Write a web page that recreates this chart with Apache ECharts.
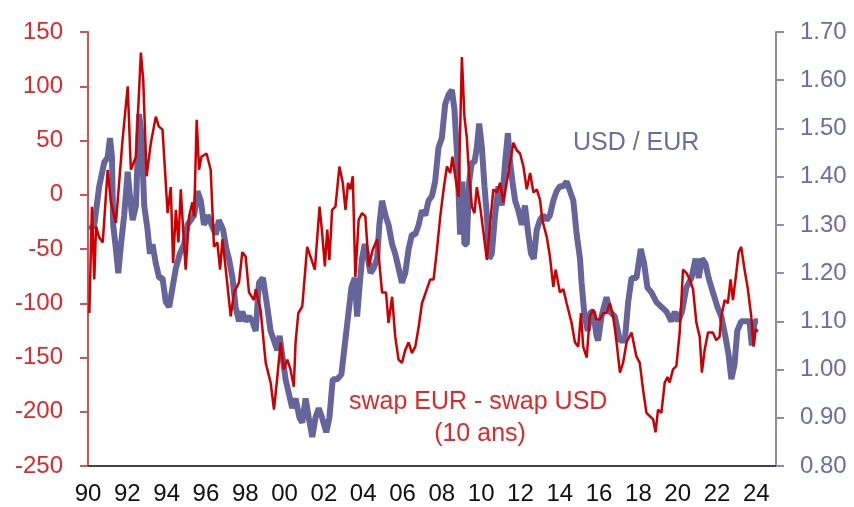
<!DOCTYPE html>
<html>
<head>
<meta charset="utf-8">
<script src="https://cdn.jsdelivr.net/npm/echarts@6.0.0/dist/echarts.min.js"></script>
<style>
  html, body { margin: 0; padding: 0; background: #fff; }
  #chart { width: 854px; height: 507px; }
</style>
</head>
<body>
<div id="chart"></div>
<script>
// écart swap EUR - swap USD 10 ans (pb), axe gauche
const swapYears = [1990.07,1990.20,1990.32,1990.41,1990.56,1990.75,1991.00,1991.17,1991.42,1991.76,
  1992.02,1992.18,1992.44,1992.69,1992.81,1992.98,1993.20,1993.45,1993.60,1993.79,
  1994.05,1994.21,1994.33,1994.47,1994.60,1994.72,1994.84,1994.97,1995.14,1995.31,
  1995.40,1995.53,1995.65,1995.77,1996.03,1996.24,1996.41,1996.58,1996.72,1996.84,
  1997.01,1997.26,1997.43,1997.68,1997.85,1998.02,1998.19,1998.44,1998.53,1998.78,
  1999.04,1999.29,1999.46,1999.63,1999.80,1999.96,2000.14,2000.30,2000.47,2000.56,
  2000.70,2000.90,2001.15,2001.32,2001.54,2001.78,2001.91,2002.05,2002.17,2002.28,
  2002.42,2002.59,2002.79,2002.96,2003.10,2003.23,2003.35,2003.47,2003.60,2003.77,
  2003.94,2004.11,2004.28,2004.48,2004.71,2004.96,2005.16,2005.29,2005.47,2005.63,
  2005.80,2005.97,2006.14,2006.31,2006.48,2006.65,2006.82,2006.99,2007.24,2007.41,
  2007.58,2007.75,2007.92,2008.09,2008.26,2008.43,2008.54,2008.68,2008.85,2008.93,
  2009.02,2009.15,2009.27,2009.39,2009.53,2009.66,2009.78,2009.95,2010.12,2010.29,
  2010.46,2010.62,2010.80,2010.96,2011.13,2011.30,2011.47,2011.64,2011.81,2011.98,
  2012.15,2012.32,2012.49,2012.66,2012.83,2013.00,2013.11,2013.34,2013.50,2013.67,
  2013.79,2014.01,2014.18,2014.35,2014.60,2014.77,2014.94,2015.08,2015.19,2015.37,
  2015.53,2015.70,2015.87,2016.04,2016.21,2016.38,2016.55,2016.72,2016.89,2017.06,
  2017.22,2017.40,2017.65,2017.90,2018.07,2018.24,2018.41,2018.58,2018.75,2018.87,
  2019.00,2019.17,2019.34,2019.48,2019.59,2019.76,2019.93,2020.10,2020.27,2020.44,
  2020.61,2020.78,2020.95,2021.12,2021.23,2021.37,2021.54,2021.79,2021.96,2022.13,
  2022.22,2022.39,2022.55,2022.69,2022.81,2022.98,2023.10,2023.23,2023.40,2023.57,
  2023.74,2023.86,2023.96,2024.08];
const swapValues = [-109,-11,-78,-29,-39,-44,23,-7,-26,51,
  100,23,35,131,106,17,48,72,63,60,
  -17,7,-63,-14,-44,5,-32,-69,-20,-7,
  -20,69,23,35,38,23,-48,-44,-69,-41,
  -69,-112,-90,-81,-53,-57,-90,-97,-87,-106,
  -155,-173,-198,-168,-136,-161,-152,-161,-177,-136,
  -109,-103,-48,-57,-69,-11,-35,-66,-32,-60,
  -14,-11,26,11,-14,11,5,17,-76,-23,
  -17,-20,-66,-51,-41,-90,-90,-118,-94,-131,
  -152,-155,-143,-136,-146,-140,-122,-100,-87,-78,
  -78,-51,-20,5,26,20,35,17,-2,57,
  127,72,53,17,-11,-17,7,-11,-35,-60,
  -26,5,2,11,-7,11,29,48,41,38,
  26,5,20,2,5,-5,-23,-39,-57,-85,
  -69,-90,-87,-100,-118,-136,-140,-109,-140,-150,
  -112,-106,-115,-115,-109,-109,-100,-112,-136,-164,
  -155,-136,-127,-149,-155,-180,-201,-204,-207,-219,
  -198,-201,-173,-168,-173,-161,-158,-127,-69,-72,
  -78,-87,-118,-131,-164,-143,-127,-127,-134,-131,
  -112,-97,-100,-78,-97,-72,-53,-48,-69,-87,
  -112,-140,-124,-126];

// USD / EUR, axe droit
const fxYears = [1990.07,1990.32,1990.57,1990.83,1991.00,1991.12,1991.22,1991.28,1991.42,1991.54,
  1991.68,1991.84,1992.02,1992.13,1992.27,1992.44,1992.60,1992.73,1992.86,1993.03,
  1993.15,1993.28,1993.45,1993.62,1993.79,1993.96,1994.13,1994.30,1994.47,1994.67,
  1994.89,1995.06,1995.23,1995.40,1995.57,1995.74,1995.90,1996.08,1996.29,1996.50,
  1996.66,1996.87,1997.04,1997.17,1997.35,1997.51,1997.68,1997.85,1998.02,1998.19,
  1998.36,1998.53,1998.70,1998.90,1999.12,1999.29,1999.46,1999.63,1999.75,1999.88,
  2000.05,2000.22,2000.39,2000.56,2000.76,2000.90,2001.07,2001.23,2001.41,2001.57,
  2001.74,2001.91,2002.12,2002.28,2002.45,2002.68,2002.89,2003.06,2003.23,2003.40,
  2003.57,2003.69,2003.81,2003.94,2004.08,2004.20,2004.37,2004.53,2004.71,2004.82,
  2004.96,2005.13,2005.29,2005.47,2005.63,2005.80,2005.97,2006.14,2006.31,2006.48,
  2006.65,2006.82,2006.99,2007.16,2007.32,2007.50,2007.66,2007.83,2008.00,2008.17,
  2008.34,2008.51,2008.64,2008.77,2008.85,2008.93,2009.05,2009.15,2009.27,2009.39,
  2009.53,2009.66,2009.78,2009.90,2010.04,2010.17,2010.29,2010.41,2010.54,2010.71,
  2010.88,2011.05,2011.22,2011.36,2011.47,2011.59,2011.73,2011.89,2012.07,2012.23,
  2012.40,2012.54,2012.68,2012.83,2012.99,2013.16,2013.34,2013.50,2013.67,2013.84,
  2014.01,2014.18,2014.35,2014.52,2014.69,2014.86,2015.03,2015.11,2015.24,2015.42,
  2015.58,2015.70,2015.87,2015.95,2016.12,2016.38,2016.55,2016.80,2017.06,2017.31,
  2017.48,2017.65,2017.90,2018.12,2018.29,2018.46,2018.66,2018.92,2019.17,2019.43,
  2019.68,2019.85,2020.02,2020.22,2020.44,2020.70,2020.91,2021.07,2021.23,2021.41,
  2021.57,2021.79,2022.02,2022.22,2022.42,2022.59,2022.73,2022.89,2023.03,2023.23,
  2023.49,2023.65,2023.77,2023.91,2024.08];
const fxValues = [1.29,1.30,1.38,1.43,1.44,1.48,1.44,1.30,1.25,1.20,
  1.26,1.32,1.41,1.36,1.31,1.34,1.53,1.48,1.34,1.29,
  1.24,1.26,1.22,1.19,1.19,1.14,1.13,1.17,1.21,1.24,
  1.26,1.30,1.31,1.32,1.37,1.35,1.30,1.32,1.30,1.28,
  1.31,1.29,1.25,1.23,1.19,1.13,1.10,1.12,1.10,1.11,
  1.10,1.08,1.18,1.19,1.13,1.08,1.06,1.04,1.07,1.03,
  0.98,0.95,0.92,0.94,0.90,0.89,0.94,0.90,0.86,0.90,
  0.92,0.90,0.87,0.90,0.98,0.98,0.99,1.05,1.11,1.17,
  1.19,1.11,1.17,1.23,1.26,1.24,1.20,1.21,1.23,1.30,
  1.35,1.32,1.30,1.26,1.24,1.21,1.18,1.20,1.25,1.28,
  1.28,1.30,1.33,1.32,1.35,1.36,1.39,1.46,1.48,1.55,
  1.57,1.58,1.54,1.45,1.37,1.28,1.39,1.26,1.26,1.39,
  1.43,1.43,1.46,1.51,1.46,1.38,1.32,1.23,1.24,1.32,
  1.38,1.34,1.43,1.49,1.43,1.39,1.35,1.33,1.30,1.34,
  1.28,1.24,1.23,1.29,1.31,1.32,1.31,1.32,1.35,1.37,
  1.38,1.38,1.39,1.37,1.35,1.28,1.23,1.18,1.12,1.08,
  1.12,1.12,1.07,1.06,1.11,1.15,1.12,1.11,1.06,1.06,
  1.14,1.19,1.19,1.25,1.22,1.17,1.16,1.14,1.13,1.12,
  1.10,1.12,1.10,1.12,1.17,1.19,1.23,1.19,1.23,1.22,
  1.19,1.16,1.13,1.11,1.07,1.03,0.98,1.01,1.08,1.10,
  1.10,1.10,1.05,1.10,1.10];

const fontFamily = '"Liberation Sans", Arial, sans-serif';
const redText = '#e02828';
const blueText = '#6c6ca6';

const chart = echarts.init(document.getElementById('chart'));

const option = {
  animation: false,
  backgroundColor: '#fff',
  grid: { left: 88, right: 78, top: 32, bottom: 41 },
  xAxis: {
    type: 'value',
    min: 1990,
    max: 2025,
    interval: 2,
    axisLine: { show: true, onZero: false, lineStyle: { color: '#444', width: 2 } },
    axisTick: { show: false },
    splitLine: { show: false },
    axisLabel: {
      color: '#111',
      fontSize: 24,
      fontFamily: fontFamily,
      margin: 16,
      showMaxLabel: false,
      formatter: v => String(v % 100).padStart(2, '0')
    }
  },
  yAxis: [
    {
      type: 'value',
      position: 'left',
      min: -250,
      max: 150,
      interval: 50,
      axisLine: { show: true, onZero: false, lineStyle: { color: '#d85050', width: 2 } },
      axisTick: { show: true, length: 8, lineStyle: { color: '#d85050', width: 2 } },
      splitLine: { show: false },
      axisLabel: { color: redText, fontSize: 24, fontFamily: fontFamily, margin: 25 }
    },
    {
      type: 'value',
      position: 'right',
      min: 0.8,
      max: 1.7,
      interval: 0.1,
      axisLine: { show: true, onZero: false, lineStyle: { color: '#8c8cbc', width: 2 } },
      axisTick: { show: true, length: 8, lineStyle: { color: '#8c8cbc', width: 2 } },
      splitLine: { show: false },
      axisLabel: {
        color: blueText, fontSize: 24, fontFamily: fontFamily, margin: 24,
        formatter: v => v.toFixed(2)
      }
    }
  ],
  series: [
    {
      name: 'USD / EUR',
      type: 'line',
      yAxisIndex: 1,
      showSymbol: false,
      z: 2,
      lineStyle: { color: '#65659c', width: 6 },
      data: fxYears.map((t, i) => [t, fxValues[i]])
    },
    {
      name: 'swap EUR - swap USD',
      type: 'line',
      yAxisIndex: 0,
      showSymbol: false,
      z: 3,
      lineStyle: { color: '#cc0000', width: 2.5 },
      data: swapYears.map((t, i) => [t, swapValues[i]])
    }
  ],
  graphic: [
    {
      type: 'text', x: 573, y: 131,
      style: { text: 'USD / EUR', fill: blueText, fontSize: 25, fontFamily: fontFamily }
    },
    {
      type: 'text', x: 349, y: 390,
      style: { text: 'swap EUR - swap USD', fill: redText, fontSize: 25, fontFamily: fontFamily }
    },
    {
      type: 'text', x: 480, y: 422,
      style: { text: '(10 ans)', fill: redText, fontSize: 25, fontFamily: fontFamily, textAlign: 'center' }
    }
  ]
};

chart.setOption(option);
</script>
</body>
</html>
